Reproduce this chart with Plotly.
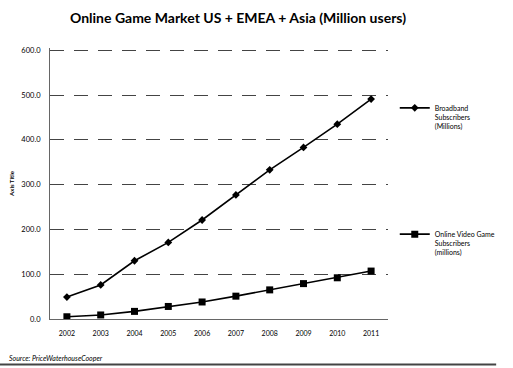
import plotly.graph_objects as go

years = ["2002", "2003", "2004", "2005", "2006", "2007", "2008", "2009", "2010", "2011"]
broadband = [49, 76, 130, 171, 221, 277, 333, 383, 435, 491]
online_game = [5, 9, 17, 28, 38, 51, 65, 79, 92, 107]
y_ticks = [0, 100, 200, 300, 400, 500, 600]
y_tick_text = ["0.0", "100.0", "200.0", "300.0", "400.0", "500.0", "600.0"]

font_family = "Lato, 'Open Sans', sans-serif"

fig = go.Figure()
fig.add_trace(go.Scatter(
    x=years, y=broadband, mode="lines+markers",
    name="Broadband<br>Subscribers<br>(Millions)",
    line=dict(color="black", width=1.6),
    marker=dict(symbol="diamond", size=6, color="black"),
    legendgroup="a",
))
fig.add_trace(go.Scatter(
    x=years, y=online_game, mode="lines+markers",
    name="Online Video Game<br>Subscribers<br>(millions)",
    line=dict(color="black", width=1.6),
    marker=dict(symbol="square", size=7, color="black"),
    legendgroup="b",
))

fig.update_layout(
    width=513, height=368,
    margin=dict(l=50, r=110, t=48, b=49),
    paper_bgcolor="white", plot_bgcolor="white",
    font=dict(family=font_family, color="black", size=7),
    title=dict(
        text="<b>Online Game Market US + EMEA + Asia (Million users)</b>",
        x=0.464, xanchor="center", y=0.95, yanchor="middle",
        font=dict(size=14, family=font_family),
    ),
    legend=dict(
        x=1.02, xanchor="left", y=0.82, yanchor="top",
        font=dict(size=7, family=font_family),
        tracegroupgap=96, valign="top",
        itemwidth=30, bgcolor="rgba(0,0,0,0)",
    ),
    showlegend=True,
)

fig.update_xaxes(
    type="category", range=[-0.5, 9.5],
    showgrid=False, showline=True, linecolor="#666", linewidth=1,
    ticks="", tickfont=dict(size=7), ticklabelstandoff=8,
)
fig.update_yaxes(
    range=[0, 605], tickvals=y_ticks, ticktext=y_tick_text,
    showgrid=True, gridcolor="#444", gridwidth=1, griddash="14px,10px",
    showline=True, linecolor="#666", linewidth=1,
    zeroline=False, ticks="", tickfont=dict(size=7.5), ticklabelstandoff=7,
    title=dict(text="<b>Axis Title</b>", font=dict(size=6), standoff=6),
)

fig.add_annotation(
    text="<i>Source: PriceWaterhouseCooper</i>",
    xref="paper", yref="paper", x=-0.128, y=-0.12,
    xanchor="left", yanchor="top", showarrow=False,
    font=dict(size=7, family=font_family),
)
fig.add_shape(
    type="line", xref="paper", yref="paper",
    x0=-0.15, x1=1.32, y0=-0.168, y1=-0.168,
    line=dict(color="#444", width=2),
)

fig.write_html("out.html")
